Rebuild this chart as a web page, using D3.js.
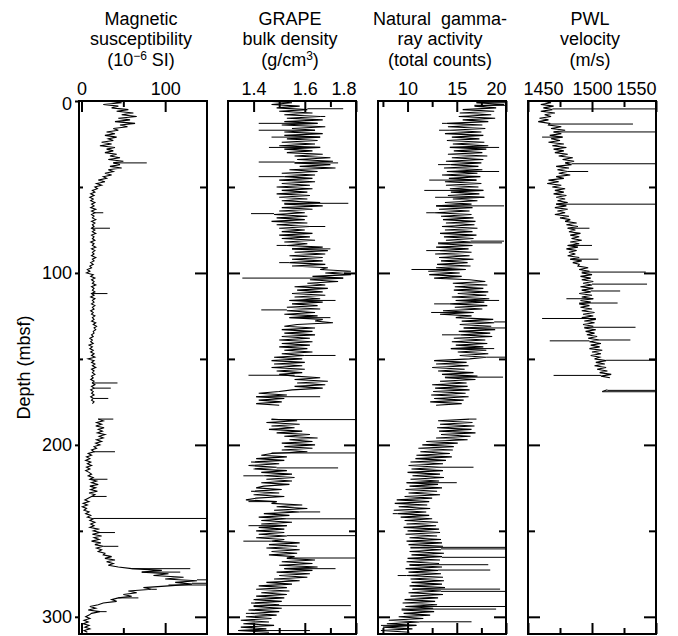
<!DOCTYPE html>
<html lang="en">
<head>
<meta charset="utf-8">
<title>Core physical properties</title>
<script src="https://cdn.jsdelivr.net/npm/d3@7"></script>
<style>
  body { margin: 0; background: #fff; }
  svg text { font-family: "Liberation Sans", Arial, Helvetica, sans-serif; font-size: 18px; fill: #000; }
</style>
</head>
<body>
<div id="chart"></div>
<script>
// One sample per metre, starting at 0 mbsf (index = depth). null = no recovery.
const magSus = [
  30,48,26,44,36,56,42,62,48,66,  44,58,40,64,46,55,38,44,30,40,
  28,42,32,38,24,36,22,40,30,38,  28,42,34,46,32,50,38,46,34,48,
  32,38,28,36,26,30,20,28,18,24,  16,19,13,16,11,15,10,14,11,16,
  12,15,11,17,12,16,12,15,13,17,  12,16,13,15,12,16,13,17,12,15,
  13,16,11,15,13,17,12,16,13,15,  12,17,13,15,11,14,10,12,7,10,
  6,14,11,16,12,15,13,17,12,15,   13,16,12,15,11,16,13,15,12,16,
  13,15,11,14,12,16,13,15,12,17,  14,18,15,17,14,15,12,14,10,13,
  11,14,9,13,10,14,11,15,12,16,   8,15,12,16,13,17,12,15,13,16,
  12,14,11,15,13,16,12,15,11,14,  12,15,11,14,12,15,13,null,null,null,
  null,null,null,null,null,20,26,18,24,17,  27,20,25,19,28,21,26,18,24,17,
  22,15,18,12,15,8,12,6,10,5,     11,7,12,6,10,5,9,12,8,14,
  10,18,12,20,10,17,11,19,9,16,   12,8,4,9,2,7,1,6,3,9,
  5,11,7,14,10,16,11,15,10,20,    14,22,13,24,15,21,12,23,16,26,
  18,24,20,28,26,36,28,40,30,38,  32,44,60,96,72,104,86,122,100,138,
  112,132,104,74,84,56,66,50,60,44,  36,42,26,20,10,17,8,22,12,9,
  5,10,3,8,2,9,4,10,3,7
];
const magSusSpikes = [[36,78],[65,26],[74,34],[112,31],[164,43],[167,35],[173,32],[185,38],
  [204,40],[220,31],[230,30],[242.8,150],[251,40],[259,44],[272,130],[274,118],[278.5,150],
  [280.5,150],[281.5,150],[284,90],[289,68],[297,30]];

const grape = [
  1.44,1.55,1.47,1.58,1.49,1.61,1.50,1.63,1.52,1.66,  1.53,1.67,1.52,1.65,1.51,1.68,1.55,1.64,1.52,1.67,
  1.52,1.66,1.53,1.65,1.51,1.64,1.50,1.66,1.52,1.63,  1.53,1.67,1.56,1.70,1.57,1.71,1.56,1.70,1.58,1.72,
  1.54,1.65,1.51,1.64,1.52,1.63,1.50,1.64,1.51,1.62,  1.49,1.63,1.51,1.61,1.49,1.62,1.50,1.61,1.51,1.66,
  1.52,1.67,1.51,1.63,1.50,1.60,1.48,1.61,1.49,1.60,  1.47,1.61,1.49,1.62,1.50,1.60,1.51,1.63,1.50,1.62,
  1.51,1.64,1.52,1.61,1.53,1.67,1.55,1.69,1.56,1.68,  1.54,1.67,1.55,1.67,1.54,1.68,1.55,1.69,1.66,1.78,
  1.68,1.78,1.63,1.75,1.62,1.73,1.61,1.68,1.56,1.69,  1.57,1.67,1.55,1.68,1.56,1.66,1.54,1.67,1.55,1.65,
  1.53,1.66,1.53,1.64,1.52,1.65,1.54,1.67,1.64,1.71,  1.57,1.52,1.64,1.51,1.63,1.52,1.64,1.51,1.62,1.50,
  1.63,1.51,1.62,1.50,1.61,1.52,1.63,1.51,1.60,1.48,  1.59,1.47,1.60,1.48,1.59,1.47,1.60,1.49,1.59,1.50,
  1.56,1.66,1.56,1.69,1.57,1.68,1.56,1.67,1.55,1.50,  1.42,1.53,1.41,1.52,1.42,1.51,1.41,1.50,null,null,
  null,null,null,null,null,1.47,1.57,1.45,1.58,1.47,  1.56,1.46,1.59,1.49,1.62,1.52,1.65,1.54,1.63,1.51,
  1.64,1.52,1.63,1.51,1.61,1.47,1.43,1.53,1.41,1.52,  1.39,1.50,1.38,1.49,1.40,1.53,1.43,1.55,1.44,1.56,
  1.45,1.55,1.43,1.54,1.44,1.41,1.51,1.39,1.50,1.40,  1.52,1.41,1.37,1.49,1.47,1.59,1.49,1.61,1.48,1.58,
  1.44,1.54,1.42,1.53,1.43,1.55,1.43,1.53,1.42,1.52,  1.41,1.52,1.42,1.53,1.41,1.52,1.47,1.58,1.46,1.57,
  1.45,1.58,1.47,1.57,1.46,1.56,1.53,1.64,1.51,1.63,  1.50,1.65,1.52,1.63,1.49,1.62,1.50,1.61,1.48,1.58,
  1.45,1.55,1.42,1.53,1.41,1.54,1.43,1.53,1.41,1.52,  1.40,1.51,1.39,1.50,1.40,1.51,1.38,1.50,1.39,1.49,
  1.37,1.47,1.35,1.46,1.36,1.48,1.35,1.45,1.34,1.46
];
const grapeSpikes = [[4.5,1.75],[9,1.68],[13,1.42],[17,1.42],[21,1.47],[27,1.46],[35.5,1.42],[36,1.73],
  [44,1.42],[59.5,1.77],[65.5,1.39],[73,1.68],[84,1.49],[86,1.70],[94,1.50],[103,1.356],[116,1.72],
  [121.5,1.43],[126,1.70],[148,1.72],[159.5,1.38],[172,1.66],[185.3,1.8],[204.7,1.8],[213.4,1.73],
  [218,1.36],[233,1.38],[239,1.66],[243,1.8],[247,1.38],[252.8,1.8],[256,1.36],[265.8,1.8],[272,1.72],
  [293.5,1.78],[298,1.37],[308,1.62]];

const gamma = [
  19.6,17.0,19.8,16.8,19.0,15.6,18.8,15.3,18.5,15.2,  18.9,15.6,18.2,14.0,17.6,14.1,17.9,14.3,17.5,13.8,
  17.7,14.5,17.3,14.0,17.8,14.6,18.2,14.3,18.0,14.7,  17.6,14.1,18.1,14.5,17.7,13.9,17.5,14.4,17.2,13.7,
  17.6,14.0,17.1,13.5,17.4,14.2,17.0,13.8,17.5,13.9,  17.2,14.3,17.7,14.4,17.3,14.1,17.8,14.6,17.1,13.8,
  16.5,12.9,16.6,13.2,16.3,12.7,16.5,13.4,16.7,13.6,  16.9,13.9,16.8,13.5,17.1,13.8,16.6,13.3,17.0,13.7,
  16.7,13.9,16.4,13.1,16.6,12.9,16.2,13.3,16.5,12.8,  16.3,13.2,16.7,13.4,16.1,13.0,16.4,12.9,15.9,12.1,
  15.3,12.2,15.5,12.7,16.3,17.9,14.6,18.1,14.8,17.7,  14.7,18.2,15.1,18.0,14.5,18.3,14.9,17.8,14.3,18.1,
  14.8,17.6,13.6,16.7,13.3,16.5,14.9,18.7,15.5,18.8,  15.3,18.5,15.7,18.9,15.2,18.4,15.4,18.6,14.7,17.9,
  14.5,18.1,14.9,17.7,14.4,18.0,15.1,18.2,15.3,18.0,  16.3,12.7,16.0,12.9,16.2,12.5,15.8,13.1,16.7,13.5,
  17.1,13.8,16.9,13.3,16.0,12.5,16.1,12.8,16.3,12.6,  15.9,12.4,16.2,12.7,15.7,12.3,15.5,12.9,null,null,
  null,null,null,null,null,16.3,13.1,16.6,13.3,16.8,  13.0,16.5,13.2,16.9,13.4,16.4,12.9,16.1,11.9,15.1,
  11.5,14.7,11.1,14.6,11.3,14.3,10.9,14.5,10.8,13.9,  10.3,13.6,10.1,13.4,10.4,13.6,10.0,13.3,10.5,13.7,
  10.3,13.2,9.9,13.1,10.2,13.5,9.8,13.0,10.1,13.3,    9.7,12.5,8.9,12.2,8.7,12.0,9.1,12.3,8.6,11.9,
  9.0,12.2,9.3,12.5,9.7,13.1,9.9,12.9,9.6,13.2,       10.0,13.3,9.8,13.0,10.2,13.4,9.9,13.5,10.1,13.6,
  10.3,13.4,10.2,13.7,10.4,13.5,10.0,13.3,9.9,13.2,   10.2,13.5,9.8,13.1,10.1,13.4,9.9,13.6,10.3,13.7,
  10.4,13.5,10.2,13.8,10.5,13.4,10.1,13.6,10.3,13.1,  9.7,12.8,9.5,13.0,9.8,12.6,9.4,12.7,9.6,12.3,
  9.1,11.6,8.1,11.2,7.9,10.9,7.5,10.5,7.3,10.2
];
const gammaSpikes = [[1,20],[2.5,20],[13,13.5],[17,13.2],[27,19.3],[37,13.1],[41,19.3],[46,12.2],
  [52,11.7],[56,12.8],[61,19.8],[65,11.9],[81.5,19.8],[82.5,19.6],[87,11.9],[98,10.4],[116,19.3],
  [118,12.7],[123,12.4],[128.5,20],[132,20],[136,13.5],[144,18.8],[149,19.9],[160.6,19.7],[185,17],
  [213,16.7],[222,15.0],[240,8.5],[259.6,20],[260.5,20],[265.4,20],[269.7,18.2],[272.8,18.4],
  [276,9.0],[283.9,19.4],[285.2,20],[294,20],[295.5,19.0],[302.9,16.5],[305,7.3]];

const pwl = [
  1461,1468,1460,1470,1462,1469,1460,1471,1463,1468,  1459,1466,1458,1467,1466,1476,1468,1479,1470,1476,
  1467,1477,1468,1475,1466,1478,1469,1480,1470,1478,  1471,1481,1474,1485,1477,1486,1479,1484,1472,1482,
  1473,1481,1474,1483,1472,1478,1466,1474,1465,1476,  1469,1479,1471,1478,1470,1480,1472,1479,1473,1481,
  1472,1480,1471,1481,1473,1479,1471,1482,1475,1483,  1479,1488,1480,1489,1481,1487,1482,1491,1483,1490,
  1484,1492,1483,1490,1481,1489,1480,1488,1482,1487,  1481,1490,1483,1492,1485,1490,1489,1497,1490,1498,
  1492,1500,1491,1499,1492,1501,1493,1500,1491,1501,  1492,1499,1490,1500,1492,1501,1491,1499,1490,1498,
  1491,1500,1492,1502,1493,1501,1492,1503,1494,1502,  1493,1501,1494,1503,1495,1502,1496,1504,1497,1506,
  1498,1507,1499,1506,1498,1508,1500,1507,1499,1506,  1502,1511,1503,1510,1502,1511,1504,1512,1506,1515,
  1507,1514,null,null,null,null,null,null,1512,1508
];
const pwlSpikes = [[4.6,1550],[13.4,1532],[18,1550],[21,1461],[36.5,1550],[41,1497],[60,1550],[74,1498],
  [84,1500],[92,1505],[99.5,1542],[106.5,1543],[110.5,1522],[115,1480],[117.5,1520],[126.5,1461],
  [131.6,1534],[139,1530],[139.5,1467],[150.8,1550],[159.6,1470],[168.3,1550],[169.1,1550]];

// titles: each line is a list of [text, superscript?]
const titles = [
  [[["Magnetic"]], [["susceptibility"]], [["(10"], ["\u22126", true], [" SI)"]]],
  [[["GRAPE"]], [["bulk density"]], [["(g/cm"], ["3", true], [")"]]],
  [[["Natural  gamma-"]], [["ray activity"]], [["(total counts)"]]],
  [[["PWL"]], [["velocity"]], [["(m/s)"]]]
];
const valueDomains = [[-3, 150], [1.3, 1.8], [7, 20], [1450, 1550]];
const labelTicks = [[0, 100], [1.4, 1.6, 1.8], [10, 15, 20], [1450, 1500, 1550]];
const minorTicks = [[50], [1.5, 1.7], [7.5, 12.5, 17.5], [1475, 1525]];
const depthMajor = [0, 100, 200, 300];
const depthMinor = [50, 150, 250];

const series = [magSus, grape, gamma, pwl];
const spikes = [magSusSpikes, grapeSpikes, gammaSpikes, pwlSpikes];

const width = 678, height = 636;
const panelLeft = [79, 228, 378, 528];
const panelWidth = 128;

const svg = d3.select("#chart").append("svg")
    .attr("width", width).attr("height", height);

const y = d3.scaleLinear().domain([0, 310]).range([101, 634]);
const plotTop = y.range()[0], plotBottom = y.range()[1];

function baseValue(values, depth) {
    let j = Math.round(depth);
    while (j >= 0 && values[j] == null) j--;
    return values[j];
}

function styleAxis(g) {
    g.select(".domain").remove();
    g.selectAll(".tick line").attr("stroke", "#000").attr("stroke-width", 2);
    g.selectAll("text").attr("font-size", 18).attr("font-family", null);
}

series.forEach((values, i) => {
    const left = panelLeft[i], right = left + panelWidth;
    const x = d3.scaleLinear().domain(valueDomains[i]).range([left, right]);
    const fmt = i === 1 ? d3.format(".1f") : d3.format("d");

    svg.append("clipPath").attr("id", "clip" + i)
        .append("rect")
        .attr("x", left).attr("y", plotTop)
        .attr("width", panelWidth).attr("height", plotBottom - plotTop);

    const trace = svg.append("g").attr("clip-path", `url(#clip${i})`);

    const line = d3.line()
        .defined(d => d != null)
        .x(d => x(d))
        .y((d, j) => y(j));

    trace.append("path")
        .datum(values)
        .attr("d", line)
        .attr("fill", "none")
        .attr("stroke", "#000")
        .attr("stroke-width", 1.1);

    trace.selectAll("line")
        .data(spikes[i])
        .join("line")
        .attr("x1", d => x(baseValue(values, d[0])))
        .attr("x2", d => x(d[1]))
        .attr("y1", d => y(d[0]))
        .attr("y2", d => y(d[0]))
        .attr("stroke", "#000")
        .attr("stroke-width", 1);

    // top axis with labels
    const gTop = svg.append("g").attr("transform", `translate(0,${plotTop})`)
        .call(d3.axisTop(x).tickValues(labelTicks[i]).tickSize(-11).tickPadding(6.5).tickFormat(fmt))
        .call(styleAxis);
    gTop.selectAll(".tick text").each(function(d) {
        const w = this.getComputedTextLength();
        const cx = x(d);
        let shift = 0;
        if (cx + w / 2 > right) shift = right - (cx + w / 2);
        if (cx - w / 2 < left - 5) shift = (left - 5) - (cx - w / 2);
        d3.select(this).attr("x", shift);
    });
    svg.append("g").attr("transform", `translate(0,${plotTop})`)
        .call(d3.axisTop(x).tickValues(minorTicks[i]).tickSize(-6).tickFormat(""))
        .call(styleAxis);

    // bottom ticks
    svg.append("g").attr("transform", `translate(0,${plotBottom})`)
        .call(d3.axisBottom(x).tickValues(labelTicks[i]).tickSize(-11).tickFormat(""))
        .call(styleAxis);
    svg.append("g").attr("transform", `translate(0,${plotBottom})`)
        .call(d3.axisBottom(x).tickValues(minorTicks[i]).tickSize(-6).tickFormat(""))
        .call(styleAxis);

    // depth ticks
    if (i === 0) {
        const gl = svg.append("g").attr("transform", `translate(${left},0)`)
            .call(d3.axisLeft(y).tickValues(depthMajor).tickSize(4).tickPadding(3))
            .call(styleAxis);
        gl.selectAll(".tick text").attr("y", d => d === 0 ? 3 : 0);
        svg.append("g").attr("transform", `translate(${left},0)`)
            .call(d3.axisLeft(y).tickValues(depthMinor).tickSize(-4).tickFormat(""))
            .call(styleAxis);
    } else {
        svg.append("g").attr("transform", `translate(${left},0)`)
            .call(d3.axisLeft(y).tickValues(depthMajor.slice(1)).tickSize(-12).tickFormat(""))
            .call(styleAxis);
        svg.append("g").attr("transform", `translate(${left},0)`)
            .call(d3.axisLeft(y).tickValues(depthMinor).tickSize(-7).tickFormat(""))
            .call(styleAxis);
    }
    svg.append("g").attr("transform", `translate(${right},0)`)
        .call(d3.axisRight(y).tickValues(depthMajor.slice(1)).tickSize(-12).tickFormat(""))
        .call(styleAxis);
    svg.append("g").attr("transform", `translate(${right},0)`)
        .call(d3.axisRight(y).tickValues(depthMinor).tickSize(-7).tickFormat(""))
        .call(styleAxis);

    // frame
    svg.append("rect")
        .attr("x", left).attr("y", plotTop)
        .attr("width", panelWidth).attr("height", plotBottom - plotTop)
        .attr("fill", "none").attr("stroke", "#000").attr("stroke-width", 2);

    // title
    const cx = (left + right) / 2 - 2;
    const baselines = [24.5, 45, 65.5];
    titles[i].forEach((parts, k) => {
        const t = svg.append("text")
            .attr("x", cx).attr("y", baselines[k])
            .attr("text-anchor", "middle")
            .style("white-space", "pre");
        parts.forEach(([txt, sup]) => {
            const ts = t.append("tspan").text(txt);
            if (sup) ts.attr("dy", -6).attr("font-size", 12);
            else if (t.selectAll("tspan").size() > 1) ts.attr("dy", 6);
        });
    });
});

svg.append("text")
    .attr("transform", `translate(30,${(plotTop + plotBottom) / 2}) rotate(-90)`)
    .attr("text-anchor", "middle")
    .text("Depth (mbsf)");
</script>
</body>
</html>
